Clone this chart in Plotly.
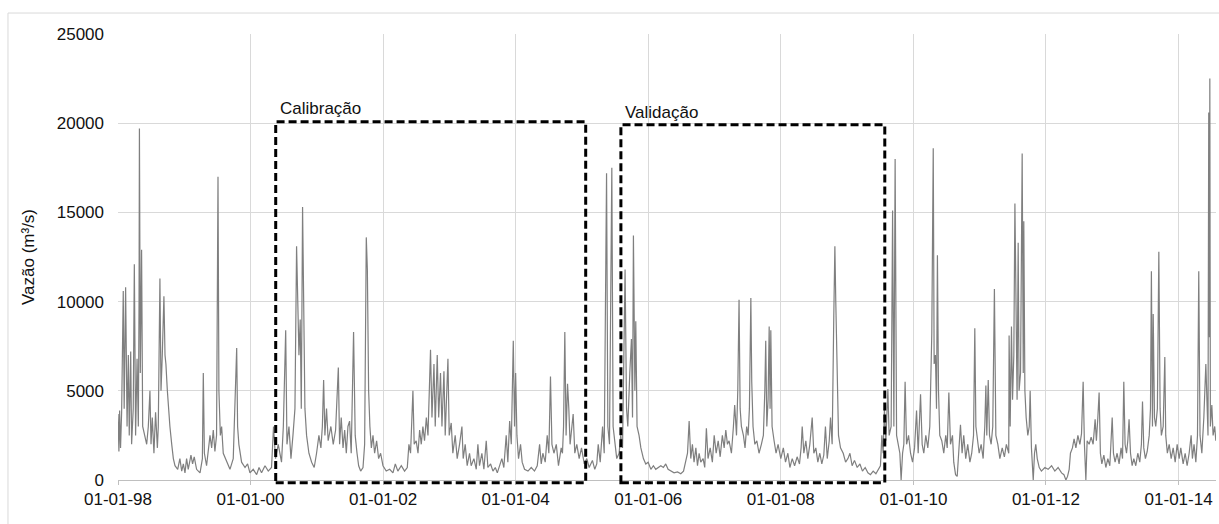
import pandas as pd
import plotly.graph_objects as go

START = pd.Timestamp("1998-01-01")
END_DAY = 6050          # last day shown on the time axis (days after START)
Y_MAX = 25000

# Daily discharge record, sampled as (days after 1998-01-01, m3/s)
days_1998_2001 = [0, 5, 9, 14, 20, 29, 34, 42, 50, 57,
                  62, 70, 75, 84, 90, 97, 105, 112, 116, 118,
                  123, 130, 136, 145, 158, 167, 176, 182, 189, 198,
                  207, 217, 222, 231, 237, 244, 253, 259, 264, 272,
                  277, 286, 296, 305, 314, 329, 341, 351, 360, 369,
                  378, 387, 402, 411, 420, 433, 452, 465, 470, 476,
                  488, 507, 516, 525, 534, 543, 551, 556, 564, 571,
                  580, 599, 617, 635, 644, 654, 659, 666, 681, 700,
                  714, 727, 745, 764, 777, 791, 810, 828, 846, 857,
                  868, 883, 901, 911, 924, 931, 942, 953, 964, 975,
                  984, 990, 997, 1004, 1010, 1017, 1024, 1030, 1039, 1052,
                  1067, 1081, 1094, 1107, 1118, 1126, 1133, 1140, 1149, 1158,
                  1173, 1186, 1199, 1214]
flow_1998_2001 = [3700, 1600, 3900, 1800, 3800, 10600, 4000, 10800, 3000, 7000,
                  2500, 7200, 2000, 4000, 12100, 2500, 6800, 3000, 10000, 19700,
                  6000, 12900, 3000, 2500, 2000, 3000, 5000, 2000, 3500, 1500,
                  3800, 1800, 3000, 11300, 5000, 7000, 10300, 7000, 6500, 5000,
                  4200, 3000, 2000, 1200, 800, 600, 1200, 500, 900, 400,
                  1200, 600, 1400, 900, 1300, 600, 400, 1200, 6000, 1500,
                  800, 2500, 1800, 2800, 1600, 2500, 17000, 5000, 2500, 3000,
                  1500, 1000, 600, 1200, 4500, 7400, 3000, 2000, 1000, 700,
                  900, 400, 600, 300, 700, 400, 800, 500, 700, 3000,
                  1200, 2000, 1000, 3000, 8400, 2000, 3000, 1200, 2500, 4000,
                  13100, 10000, 7000, 9000, 4000, 15300, 9000, 4000, 2500, 1500,
                  1000, 700, 1500, 2500, 1800, 3000, 5600, 2500, 4000, 2200,
                  3000, 2000, 2800, 6300]

days_2001_2004 = [1221, 1230, 1240, 1249, 1258, 1267, 1276, 1285, 1298, 1307,
                  1317, 1326, 1337, 1350, 1359, 1368, 1374, 1381, 1388, 1396,
                  1405, 1414, 1425, 1436, 1447, 1460, 1478, 1497, 1515, 1528,
                  1542, 1561, 1579, 1594, 1603, 1612, 1625, 1632, 1643, 1653,
                  1662, 1671, 1680, 1689, 1699, 1708, 1722, 1730, 1741, 1748,
                  1759, 1767, 1777, 1785, 1796, 1803, 1818, 1825, 1836, 1845,
                  1858, 1869, 1882, 1895, 1902, 1913, 1924, 1937, 1946, 1961,
                  1974, 1983, 1992, 2005, 2016, 2029, 2038, 2053, 2066, 2079,
                  2090, 2102, 2115, 2126, 2139, 2148, 2158, 2167, 2178, 2185,
                  2191, 2198, 2207, 2218, 2227, 2240, 2259, 2277, 2295, 2310,
                  2323, 2332, 2341, 2354, 2365, 2374, 2383, 2391, 2402, 2415,
                  2427, 2442]
flow_2001_2004 = [2000, 3500, 1800, 2800, 1500, 3000, 3300, 1500, 8300, 2500,
                  1500, 800, 500, 700, 2000, 13600, 11800, 5000, 3000, 1800,
                  2500, 1500, 2200, 1200, 1500, 800, 500, 600, 400, 900,
                  500, 800, 500, 700, 2000, 1500, 5000, 2000, 2200, 1500,
                  2800, 2000, 3000, 2200, 3500, 2500, 7300, 3500, 6500, 3000,
                  7000, 3500, 6000, 3000, 6100, 2500, 6800, 2500, 3200, 1500,
                  2500, 1200, 2000, 3000, 1200, 2000, 800, 1500, 800, 1200,
                  600, 2000, 800, 1500, 600, 2200, 700, 900, 500, 700,
                  400, 800, 1200, 700, 2500, 1000, 3300, 2000, 7800, 3000,
                  6000, 2500, 1200, 2000, 1000, 600, 500, 700, 500, 800,
                  2000, 900, 1500, 1000, 2500, 1500, 5800, 2000, 1500, 2000,
                  800, 1800]

days_2004_2008 = [2449, 2455, 2462, 2469, 2477, 2484, 2491, 2501, 2508, 2517,
                  2528, 2541, 2554, 2569, 2583, 2596, 2614, 2627, 2638, 2646,
                  2657, 2670, 2679, 2692, 2699, 2708, 2715, 2721, 2728, 2737,
                  2748, 2761, 2770, 2780, 2794, 2802, 2809, 2820, 2829, 2835,
                  2840, 2848, 2853, 2860, 2871, 2881, 2895, 2908, 2921, 2936,
                  2950, 2963, 2976, 2991, 3005, 3018, 3031, 3046, 3064, 3083,
                  3101, 3116, 3129, 3138, 3147, 3156, 3165, 3174, 3184, 3193,
                  3202, 3211, 3224, 3233, 3242, 3251, 3263, 3275, 3285, 3296,
                  3307, 3318, 3330, 3340, 3349, 3358, 3367, 3380, 3391, 3398,
                  3408, 3415, 3422, 3428, 3435, 3446, 3455, 3464, 3472, 3479,
                  3487, 3492, 3499, 3509, 3520, 3532, 3545, 3556, 3564, 3569,
                  3575, 3582, 3588, 3593, 3597, 3604, 3615, 3626, 3637, 3652,
                  3666]
flow_2004_2008 = [1500, 3000, 8300, 2500, 5400, 4000, 2000, 3000, 3700, 1500,
                  2000, 1200, 1800, 900, 1200, 700, 1100, 600, 900, 2000,
                  1000, 3000, 1500, 17200, 3000, 2000, 11700, 17500, 3000, 2000,
                  1200, 1500, 2500, 1800, 11800, 4000, 3000, 6000, 7900, 3500,
                  13700, 5000, 8900, 3000, 2500, 1800, 1200, 900, 1000, 600,
                  800, 600, 700, 800, 700, 900, 600, 500, 400, 450,
                  350, 500, 1000, 1500, 3300, 1200, 2000, 1000, 1800, 800,
                  1500, 1000, 1200, 700, 2900, 1200, 1800, 1000, 2500, 1500,
                  2200, 1300, 2500, 1800, 2800, 2000, 2200, 1500, 3000, 4200,
                  2500, 5000, 10100, 4000, 3000, 2500, 1800, 3000, 2500, 4000,
                  10200, 5500, 3000, 2000, 2200, 1500, 2000, 2500, 5000, 7800,
                  3000, 4500, 8600, 4000, 8400, 3000, 2200, 1500, 2000, 1200,
                  1800]

days_2008_2011 = [3678, 3691, 3702, 3715, 3728, 3742, 3755, 3764, 3770, 3779,
                  3790, 3801, 3812, 3825, 3834, 3845, 3856, 3867, 3878, 3889,
                  3898, 3908, 3919, 3926, 3935, 3944, 3950, 3955, 3963, 3970,
                  3981, 3996, 4009, 4022, 4033, 4045, 4058, 4073, 4088, 4102,
                  4117, 4132, 4146, 4161, 4176, 4189, 4201, 4209, 4216, 4223,
                  4231, 4242, 4249, 4260, 4268, 4275, 4282, 4290, 4299, 4308,
                  4315, 4323, 4330, 4337, 4345, 4356, 4367, 4378, 4389, 4400,
                  4409, 4422, 4431, 4440, 4451, 4462, 4473, 4484, 4492, 4497,
                  4504, 4510, 4515, 4521, 4528, 4539, 4550, 4561, 4569, 4578,
                  4587, 4598, 4605, 4615, 4624, 4633, 4642, 4651, 4660, 4671,
                  4682, 4694, 4704, 4714, 4721, 4727, 4734, 4745, 4756, 4767,
                  4776, 4782, 4787, 4795, 4802, 4811, 4820, 4829, 4837, 4848,
                  4859, 4872, 4884, 4895, 4908]
flow_2008_2011 = [1000, 1500, 700, 1200, 800, 1300, 900, 1800, 3000, 1500,
                  2200, 1200, 2000, 3500, 1500, 1800, 1000, 1500, 900, 1400,
                  3000, 1200, 2200, 3500, 2000, 9200, 13100, 10000, 6200, 2500,
                  1800, 1500, 1000, 1200, 1500, 800, 1100, 700, 900, 500,
                  700, 400, 300, 500, 350, 600, 800, 2500, 1500, 4000,
                  2200, 5100, 2500, 3000, 15100, 3000, 18000, 2500, 2000, 1500,
                  0, 1500, 2000, 5500, 2000, 2500, 1500, 1000, 1800, 3900,
                  1500, 4800, 2000, 1500, 2500, 1800, 3000, 8200, 18600, 6500,
                  7000, 4000, 12600, 5000, 2500, 2200, 1500, 2500, 1800, 4900,
                  2000, 2500, 1000, 300, 200, 1500, 3100, 1500, 2500, 1200,
                  2000, 1000, 1500, 2500, 8500, 3000, 2500, 1500, 2000, 1200,
                  3000, 5300, 2500, 5600, 2500, 2000, 3000, 10700, 2500, 2000,
                  1200, 1800, 1300, 2000, 1500]

days_2011_2014 = [4910, 4916, 4923, 4929, 4936, 4942, 4949, 4954, 4960, 4965,
                  4973, 4982, 4988, 4991, 4997, 5004, 5013, 5021, 5026, 5033,
                  5043, 5050, 5057, 5065, 5076, 5088, 5107, 5125, 5144, 5162,
                  5180, 5199, 5212, 5223, 5232, 5241, 5248, 5259, 5268, 5278,
                  5289, 5300, 5309, 5318, 5325, 5333, 5340, 5351, 5362, 5373,
                  5384, 5391, 5399, 5406, 5413, 5421, 5432, 5443, 5454, 5465,
                  5478, 5485, 5494, 5505, 5516, 5527, 5535, 5542, 5549, 5557,
                  5564, 5571, 5579, 5588, 5597, 5608, 5619, 5630, 5639, 5645,
                  5652, 5661, 5671, 5682, 5689, 5694, 5700, 5704, 5711, 5718,
                  5727, 5735, 5742, 5749, 5759, 5768, 5773, 5782, 5792, 5803,
                  5814, 5825, 5836, 5847, 5856, 5869, 5880, 5891, 5902, 5913,
                  5920, 5929, 5939, 5948, 5955, 5962, 5972, 5983, 5994, 6001,
                  6006, 6010, 6014, 6016, 6019, 6027, 6034, 6043, 6049]
flow_2011_2014 = [8100, 3000, 8600, 4500, 7000, 15500, 6000, 4500, 13300, 5000,
                  6000, 18300, 6000, 14500, 5000, 3500, 2500, 3000, 5000, 1800,
                  0, 1500, 2000, 1200, 700, 500, 700, 600, 800, 500,
                  700, 400, 300, 0, 200, 600, 1500, 1800, 2300, 1800,
                  2500, 2000, 2600, 5500, 2000, 0, 2200, 2000, 2400, 2000,
                  3400, 2200, 3500, 4900, 1500, 900, 1400, 700, 1200, 800,
                  3500, 1500, 1000, 1500, 900, 1800, 1200, 5500, 2000, 1500,
                  2200, 3400, 1500, 800, 1200, 800, 1500, 1000, 2000, 4400,
                  1800, 1200, 1600, 2500, 4000, 11700, 3000, 9300, 3500, 3000,
                  4000, 12800, 4000, 2500, 3000, 6900, 2500, 1500, 2000, 1200,
                  1800, 1000, 2000, 1200, 1800, 900, 1500, 800, 1500, 2500,
                  1200, 2000, 1000, 2500, 11700, 2500, 1500, 3500, 6500, 3000,
                  2500, 20600, 8000, 22500, 3000, 4200, 2500, 3000, 2200]

# Calibration / validation windows: (label, start day, end day, top value)
periods = [("Calibração", 869, 2577, 20080),
           ("Validação", 2771, 4225, 19910)]
period_label_y = [20830, 20600]

segments = [(days_1998_2001, flow_1998_2001), (days_2001_2004, flow_2001_2004),
            (days_2004_2008, flow_2004_2008), (days_2008_2011, flow_2008_2011),
            (days_2011_2014, flow_2011_2014)]
all_days, all_flow = [], []
for d, q in segments:
    assert len(d) == len(q)
    all_days += d
    all_flow += q

dates = START + pd.to_timedelta(all_days, unit="D")
x_end = START + pd.Timedelta(days=END_DAY)

FONT = "Liberation Sans, Arial, sans-serif"
GRID = "#d9d9d9"
FS = 17

fig = go.Figure()
fig.add_trace(go.Scatter(x=dates, y=all_flow, mode="lines",
                         line=dict(color="#7f7f7f", width=1.2),
                         showlegend=False))

shapes = []
annotations = []
for (label, d0, d1, top), ly in zip(periods, period_label_y):
    # window frame in paper units so the lower edge is not clipped at the axis
    x0 = d0 / END_DAY
    x1 = d1 / END_DAY
    shapes.append(dict(type="rect", xref="paper", yref="paper",
                       x0=x0, x1=x1, y0=-0.006, y1=top / Y_MAX,
                       line=dict(color="black", width=3, dash="8px,4px"),
                       fillcolor="rgba(0,0,0,0)", layer="above"))
    annotations.append(dict(x=START + pd.Timedelta(days=d0 + 10), y=ly,
                            xref="x", yref="y", text=label, showarrow=False,
                            xanchor="left", yanchor="middle",
                            font=dict(family=FONT, size=FS, color="#111111")))

# outer chart frame
shapes.append(dict(type="rect", xref="paper", yref="paper",
                   x0=-0.1002, x1=1.2, y0=-0.3, y1=1.047,
                   line=dict(color=GRID, width=1), layer="below"))

fig.update_layout(
    width=1219, height=524,
    margin=dict(l=118, r=3, t=34, b=44),
    paper_bgcolor="white", plot_bgcolor="white",
    font=dict(family=FONT, size=FS, color="#111111"),
    shapes=shapes, annotations=annotations,
    xaxis=dict(type="date", range=[START, x_end],
               tick0=START, dtick="M24", tickformat="%d-%m-%y",
               showgrid=True, gridcolor=GRID, gridwidth=1,
               showline=True, linecolor="#bfbfbf", linewidth=1,
               ticks="outside", ticklen=4, tickcolor="#bfbfbf",
               zeroline=False, tickfont=dict(size=FS)),
    yaxis=dict(range=[0, Y_MAX], dtick=5000, tickformat="d",
               showgrid=True, gridcolor=GRID, gridwidth=1,
               showline=False, zeroline=False, ticks="",
               ticklabelstandoff=13, tickfont=dict(size=FS),
               title=dict(text="Vazão (m³/s)", standoff=17,
                          font=dict(size=FS))),
)

fig.write_html("out.html")
